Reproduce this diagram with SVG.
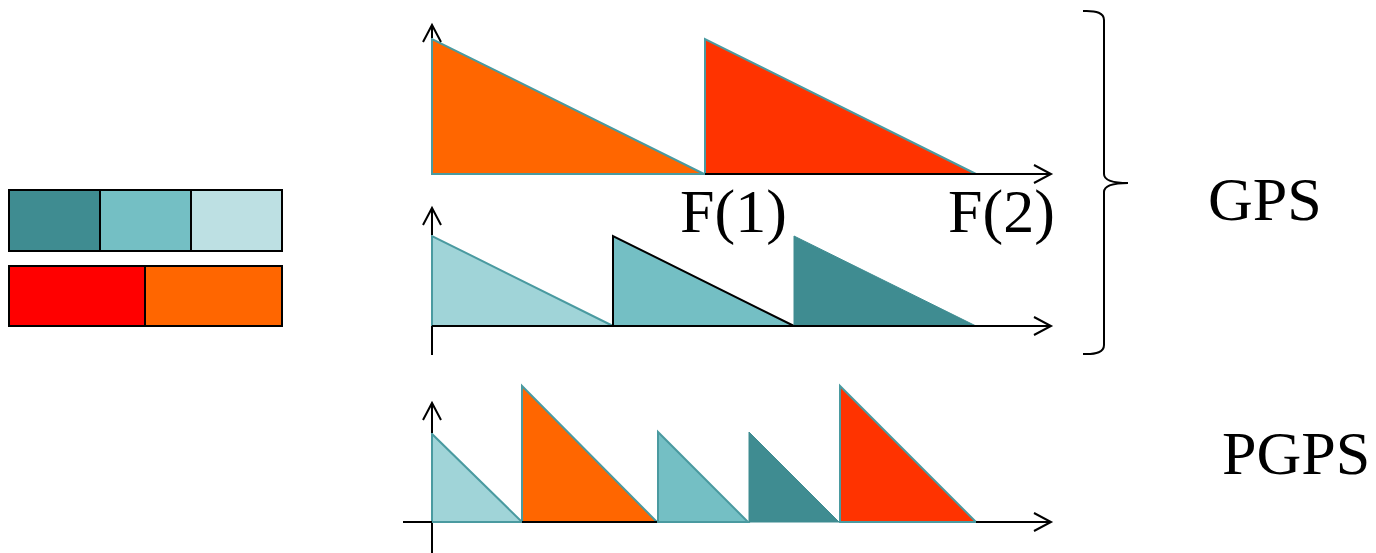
<svg xmlns="http://www.w3.org/2000/svg" width="1376" height="553" viewBox="0 0 1376 553">
<style>
.ax{fill:none;stroke:#000;stroke-width:2}
.tri{stroke:#4A9AA0;stroke-width:2;stroke-linejoin:miter}
.box{stroke:#000;stroke-width:2}
.lbl{font-family:"Liberation Serif","Times New Roman",serif;font-size:62px;fill:#000}
</style>
<rect width="1376" height="553" fill="#fff"/>
<g id="legend">
<rect class="box" x="9" y="190" width="91" height="61" fill="#3F8C91"/>
<rect class="box" x="100" y="190" width="91" height="61" fill="#74BFC4"/>
<rect class="box" x="191" y="190" width="91" height="61" fill="#BDE0E3"/>
<rect class="box" x="9" y="266" width="136" height="60" fill="#FF0000"/>
<rect class="box" x="145" y="266" width="137" height="60" fill="#FF6600"/>
</g>
<g id="gps-top">
<polygon class="tri" points="432,39 432,174 704,174" fill="#FF6600"/>
<polygon class="tri" points="705,39 705,174 976,174" fill="#FF3300"/>
</g>
<g id="gps-mid">
<polygon class="tri" points="432,236 432,326 613,326" fill="#A0D4D8"/>
<polygon points="613,236 613,326 794,326" fill="#74BFC4" stroke="#000" stroke-width="2"/>
<polygon points="794,236 794,326 976,326" fill="#3F8C91" stroke="#3F8C91" stroke-width="1"/>
</g>
<g id="pgps">
<polygon class="tri" points="432,434 432,522 522,522" fill="#A0D4D8"/>
<polygon class="tri" points="522,386 522,522 657,522" fill="#FF6600"/>
<polygon class="tri" points="658,432 658,522 748,522" fill="#74BFC4"/>
<polygon points="749,432 749,522 839,522" fill="#3F8C91" stroke="#3F8C91" stroke-width="1"/>
<polygon class="tri" points="840,386 840,522 976,522" fill="#FF3300"/>
</g>
<g id="connectors">
<!-- top chart axes -->
<line class="ax" x1="432" y1="38" x2="432" y2="25"/>
<polyline class="ax" points="423,42 432,25 441,42"/>
<line class="ax" x1="705" y1="174" x2="1051" y2="174"/>
<polyline class="ax" points="1034,165 1051,174 1034,183"/>
<!-- middle chart axes -->
<line class="ax" x1="432" y1="355" x2="432" y2="326"/>
<line class="ax" x1="432" y1="235" x2="432" y2="208"/>
<polyline class="ax" points="423,225 432,208 441,225"/>
<line class="ax" x1="432" y1="326" x2="1051" y2="326"/>
<polyline class="ax" points="1034,317 1051,326 1034,335"/>
<!-- bottom chart axes -->
<line class="ax" x1="432" y1="553" x2="432" y2="523"/>
<line class="ax" x1="432" y1="433" x2="432" y2="403"/>
<polyline class="ax" points="423,420 432,403 441,420"/>
<line class="ax" x1="403" y1="522" x2="432" y2="522"/>
<line class="ax" x1="522" y1="522" x2="657" y2="522"/>
<line class="ax" x1="976" y1="522" x2="1051" y2="522"/>
<polyline class="ax" points="1034,513 1051,522 1034,531"/>
<!-- brace -->
<path d="M1083,11 Q1104,10 1104,20 L1104,174 Q1104,183 1128,183 Q1104,183 1104,192 L1104,345 Q1104,355 1083,354" fill="none" stroke="#000" stroke-width="2"/>
</g>
<g id="labels">
<text class="lbl" x="680" y="232">F(1)</text>
<text class="lbl" x="948" y="232">F(2)</text>
<text class="lbl" x="1208" y="220">GPS</text>
<text class="lbl" x="1222" y="474">PGPS</text>
</g>
</svg>
